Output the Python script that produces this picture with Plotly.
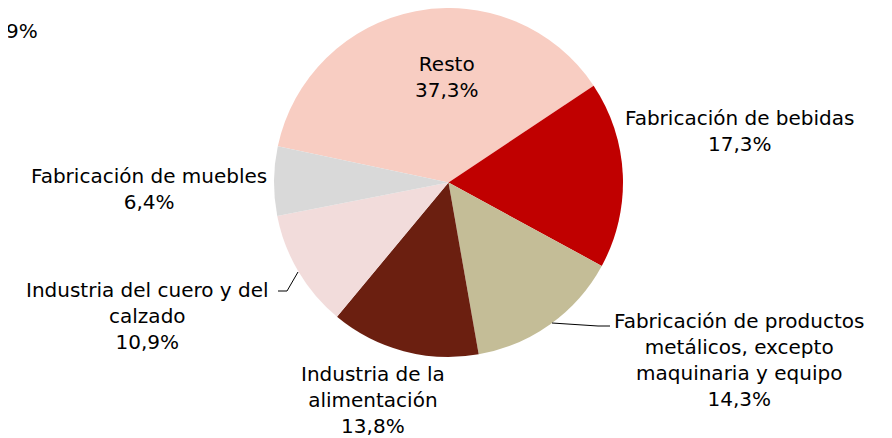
import plotly.graph_objects as go

# Sector share, clockwise starting with "Resto"
labels = [
    "Resto",
    "Fabricación de bebidas",
    "Fabricación de productos metálicos, excepto maquinaria y equipo",
    "Industria de la alimentación",
    "Industria del cuero y del calzado",
    "Fabricación de muebles",
]
values = [37.3, 17.3, 14.3, 13.8, 10.9, 6.4]
colors = ["#F8CDC2", "#C00000", "#C4BD97", "#6B1F10", "#F2DCDB", "#D9D9D9"]

# label text (wrapped as in the original) and where each block sits, in page px
label_text = [
    "Resto",
    "Fabricación de bebidas",
    "Fabricación de productos<br>metálicos, excepto<br>maquinaria y equipo",
    "Industria de la<br>alimentación",
    "Industria del cuero y del<br>calzado",
    "Fabricación de muebles",
]
label_pos = [(447, 77), (739, 131), (739, 360), (373, 400), (147, 316), (149, 189)]

W, H = 892, 438
OFF = 8  # body margin of the page
FONT = "DejaVu Sans"

def px_x(x):
    return (x - OFF) / W

def px_y(y):
    return 1 - (y - OFF) / H

fig = go.Figure(go.Pie(
    labels=labels,
    values=values,
    sort=False,
    direction="clockwise",
    rotation=282,
    marker=dict(colors=colors, line=dict(width=0)),
    textinfo="none",
    hoverinfo="label+percent",
    domain=dict(x=[px_x(274), px_x(623)], y=[px_y(357), 1]),
    showlegend=False,
))

def fmt(v):
    return f"{v:.1f}".replace(".", ",") + "%"

for txt, v, (px, py) in zip(label_text, values, label_pos):
    fig.add_annotation(
        text=f"{txt}<br>{fmt(v)}",
        x=px_x(px), y=px_y(py), xref="paper", yref="paper",
        xanchor="center", yanchor="middle", align="center",
        showarrow=False, font=dict(family=FONT, size=20, color="#000000"),
    )

# stray label cut by the left edge
fig.add_annotation(
    text="9%", x=px_x(4), y=px_y(31), xref="paper", yref="paper",
    xanchor="left", yanchor="middle", showarrow=False,
    font=dict(family=FONT, size=20, color="#000000"),
)

# leader lines
def path(pts):
    return "M" + " L".join(f"{px_x(x)},{px_y(y)}" for x, y in pts)

fig.add_shape(type="path", xref="paper", yref="paper",
              path=path([(278, 291), (287, 291), (298, 272)]),
              line=dict(color="#000000", width=1))
fig.add_shape(type="path", xref="paper", yref="paper",
              path=path([(552, 323), (598, 326), (610, 326)]),
              line=dict(color="#000000", width=1))

fig.update_layout(
    width=W, height=H,
    margin=dict(l=0, r=0, t=0, b=0),
    paper_bgcolor="white",
    plot_bgcolor="white",
)

fig.write_html("out.html")
